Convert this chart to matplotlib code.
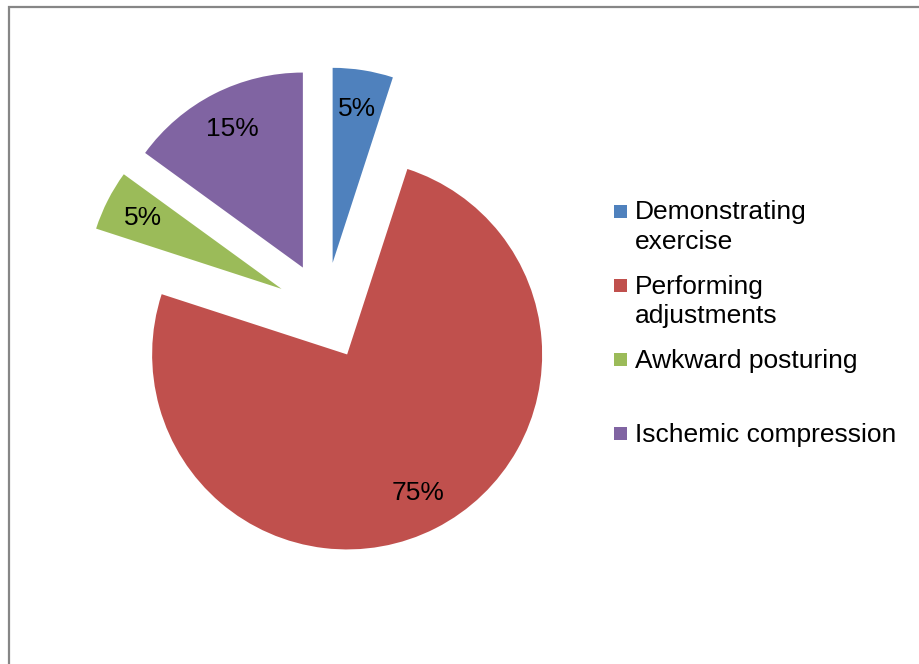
import matplotlib
matplotlib.use("Agg")
import matplotlib.pyplot as plt
from matplotlib.patches import Rectangle

plt.rcParams['font.family'] = ['Liberation Sans', 'DejaVu Sans']

labels = ["Demonstrating\nexercise", "Performing\nadjustments",
          "Awkward posturing", "Ischemic compression"]
shares = [5, 75, 5, 15]
colors = ["#4F81BD", "#C0504D", "#9BBB59", "#8064A2"]

W, H = 920, 664
fig = plt.figure(figsize=(W / 100, H / 100), dpi=100)
fig.patch.set_facecolor("white")

# outer chart border (runs off the right and bottom edges)
fig.patches.append(Rectangle((9.5 / W, -0.05), 1.1, 1 - 6.5 / H + 0.05,
                             transform=fig.transFigure, fill=False,
                             edgecolor="#868686", linewidth=1.6))

ax = fig.add_axes([0, 0, 1, 1])
wedges, texts, autotexts = ax.pie(
    shares, colors=colors, startangle=90, counterclock=False,
    explode=[0.25] * 4, radius=1, autopct="%d%%", pctdistance=0.8,
    wedgeprops=dict(linewidth=0),
    textprops=dict(fontsize=19, color="black"))

# 1 data unit = 195 px, pie centre at pixel (325, 311)
r_px, cx, cy = 195, 325, 311
ax.set_xlim(-cx / r_px, (W - cx) / r_px)
ax.set_ylim(-(H - cy) / r_px, cy / r_px)
ax.set_aspect("auto")
ax.axis("off")

# legend: one square per entry, text lines placed on their own baselines
for i, (lab, col) in enumerate(zip(labels, colors)):
    yc = 211 + 74.3 * i
    fig.patches.append(Rectangle((614 / W, 1 - (yc + 6.5) / H), 13 / W, 13 / H,
                                 transform=fig.transFigure, facecolor=col,
                                 edgecolor="none"))
    for k, line in enumerate(lab.split("\n")):
        fig.text(635 / W, 1 - (yc + 8.5 + 29.5 * k) / H, line, fontsize=19,
                 va="baseline", ha="left")

fig.savefig("out.png", dpi=100)
